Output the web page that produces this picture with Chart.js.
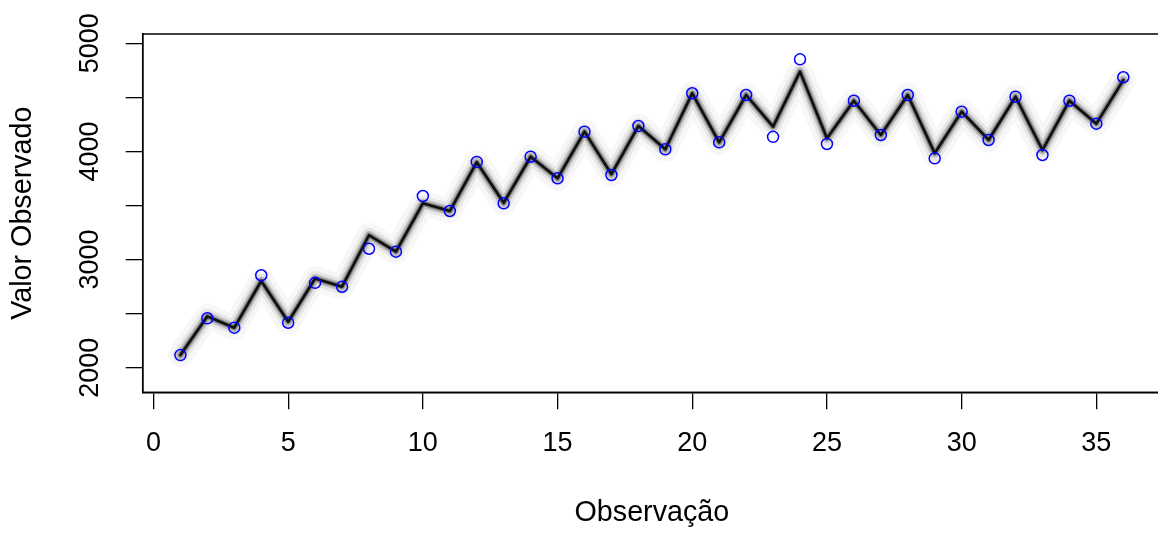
<!DOCTYPE html>
<html>
<head>
<meta charset="utf-8">
<script src="https://cdn.jsdelivr.net/npm/chart.js@4/dist/chart.umd.min.js"></script>
<style>
  html, body { margin: 0; padding: 0; background: #fff; overflow: hidden; }
  #c { display: block; width: 1161px; height: 537px; }
</style>
</head>
<body>
<canvas id="c" width="1161" height="537"></canvas>
<script>
// ---- data ----
const observations = [1,2,3,4,5,6,7,8,9,10,11,12,13,14,15,16,17,18,19,20,21,22,23,24,25,26,27,28,29,30,31,32,33,34,35,36];
const observedValues = [2117, 2457, 2370, 2855, 2416, 2785, 2749, 3100, 3073, 3588, 3449, 3903,
                        3520, 3951, 3751, 4183, 3782, 4235, 4020, 4538, 4084, 4522, 4135, 4852,
                        4069, 4469, 4152, 4522, 3936, 4368, 4106, 4506, 3967, 4469, 4257, 4686];
const fittedValues = [2117, 2475, 2370, 2802, 2425, 2825, 2749, 3225, 3073, 3520, 3449, 3900,
                      3525, 3951, 3751, 4183, 3790, 4235, 4020, 4538, 4084, 4522, 4229, 4738,
                      4122, 4469, 4152, 4522, 3983, 4368, 4106, 4506, 4013, 4469, 4257, 4660];
const xTickValues = [0, 5, 10, 15, 20, 25, 30, 35];
const yTickValues = [2000, 2500, 3000, 3500, 4000, 4500, 5000];
const yLabelValues = [2000, 3000, 4000, 5000];
const xTitle = 'Observação';
const yTitle = 'Valor Observado';

const FONT = 'Liberation Sans, Arial, Helvetica, sans-serif';
const pts = (vals) => observations.map((x, i) => ({x: x, y: vals[i]}));

function lineLayer(width, color) {
  return {
    type: 'line',
    data: pts(fittedValues),
    borderColor: color,
    borderWidth: width,
    pointRadius: 0,
    fill: false,
    tension: 0,
    borderJoinStyle: 'round',
    borderCapStyle: 'round'
  };
}

const boxPlugin = {
  id: 'box',
  afterDraw(chart) {
    const a = chart.chartArea, ctx = chart.ctx;
    ctx.save();
    ctx.strokeStyle = '#000';
    ctx.lineWidth = 1.5;
    ctx.strokeRect(a.left, a.top, a.right - a.left, a.bottom - a.top);
    ctx.restore();
  }
};

new Chart(document.getElementById('c'), {
  type: 'scatter',
  data: {
    datasets: [
      {
        type: 'scatter',
        data: pts(observedValues),
        pointStyle: 'circle',
        pointRadius: 5.5,
        pointBorderWidth: 1.5,
        pointBorderColor: '#0000ff',
        pointBackgroundColor: 'rgba(0,0,0,0)',
        showLine: false
      },
      lineLayer(2.6, 'rgba(0,0,0,0.88)'),
      lineLayer(5, 'rgba(0,0,0,0.35)'),
      lineLayer(9, 'rgba(0,0,0,0.18)'),
      lineLayer(15, 'rgba(0,0,0,0.07)'),
      lineLayer(25, 'rgba(0,0,0,0.03)')
    ]
  },
  options: {
    responsive: false,
    maintainAspectRatio: false,
    animation: false,
    devicePixelRatio: 1,
    layout: { autoPadding: false, padding: { top: 34, right: 0, bottom: 0, left: 0 } },
    plugins: { legend: { display: false }, tooltip: { enabled: false } },
    scales: {
      x: {
        type: 'linear',
        min: -0.4,
        max: 37.4,
        afterBuildTicks(scale) { scale.ticks = xTickValues.map(v => ({value: v})); },
        afterFit(scale) { scale.height = 144.7; scale.paddingLeft = 0; scale.paddingRight = 0; },
        grid: { display: true, drawOnChartArea: false, drawTicks: true, tickLength: 17, color: '#000', lineWidth: 1.3 },
        border: { display: true, color: '#000', width: 1.5 },
        ticks: {
          autoSkip: false, maxRotation: 0, minRotation: 0, padding: 18,
          color: '#000', font: { family: FONT, size: 27 },
          callback: (v) => String(v)
        },
        title: {
          display: true, text: xTitle, color: '#000',
          font: { family: FONT, size: 28.7 },
          padding: { top: 0, bottom: 7 }
        }
      },
      y: {
        type: 'linear',
        min: 1772.5,
        max: 5086,
        afterBuildTicks(scale) { scale.ticks = yTickValues.map(v => ({value: v})); },
        afterFit(scale) { scale.width = 142.7; scale.paddingTop = 0; scale.paddingBottom = 0; },
        grid: { display: true, drawOnChartArea: false, drawTicks: true, tickLength: 17, color: '#000', lineWidth: 1.3 },
        border: { display: true, color: '#000', width: 1.5 },
        ticks: {
          autoSkip: false, minRotation: 90, maxRotation: 90, padding: 5,
          crossAlign: 'center',
          color: '#000', font: { family: FONT, size: 27 },
          callback: (v) => yLabelValues.includes(v) ? String(v) : ''
        },
        title: {
          display: true, text: yTitle, color: '#000',
          font: { family: FONT, size: 28.7 },
          padding: { top: 6, bottom: 0 }
        }
      }
    }
  },
  plugins: [boxPlugin]
});
</script>
</body>
</html>
